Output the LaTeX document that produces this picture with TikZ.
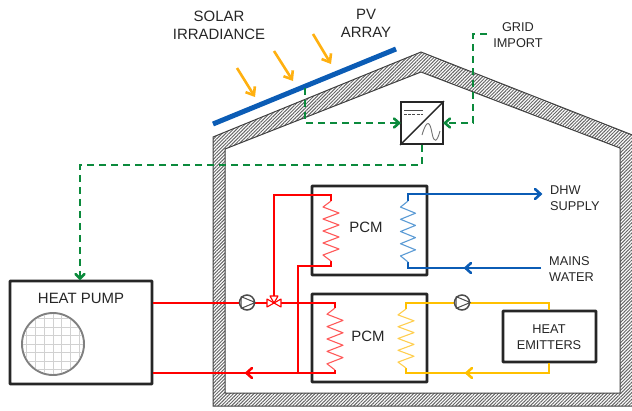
\documentclass[tikz,border=0pt]{standalone}
\usepackage{fontspec}
\setmainfont{Liberation Sans}
\usetikzlibrary{patterns.meta,arrows.meta,calc}
\definecolor{tcol}{HTML}{262626}
\definecolor{redc}{HTML}{FF0000}
\definecolor{coilred}{HTML}{FF5A5A}
\definecolor{bluec}{HTML}{0B5CB5}
\definecolor{coilblue}{HTML}{5B9BD5}
\definecolor{yelc}{HTML}{FFC000}
\definecolor{coilyel}{HTML}{FFCF50}
\definecolor{grnc}{HTML}{0B8A3C}
\definecolor{orgc}{HTML}{FFB010}
\tikzset{
  x=1bp,y=-1bp,
  lbl/.style={font=\fontsize{15}{18}\selectfont,text=tcol,align=center,inner sep=0pt},
  slbl/.style={font=\fontsize{12.8}{15.5}\selectfont,text=tcol,inner sep=0pt},
  blackbox/.style={draw=black!85,line width=2.6bp,fill=white,inner sep=0pt,rounded corners=0.5bp},
  pipe/.style={line width=2.6bp},
  redpipe/.style={pipe,draw=redc},
  bluepipe/.style={pipe,draw=bluec},
  yelpipe/.style={pipe,draw=yelc},
  greenline/.style={draw=grnc,line width=2.6bp,dash pattern=on 7bp off 5bp},
  coil/.style={line width=1.1bp,line join=round},
  sun/.style={draw=orgc,line width=2.6bp,-{Straight Barb[length=7bp,width=11bp]}},
  pumpc/.style={circle,draw=black!70,line width=1.5bp,fill=white,minimum size=15bp,inner sep=0pt},
  headtip/.style={line width=2.6bp,line cap=round},
  wall/.style={draw=black!75,line width=1bp,pattern={Lines[angle=45,distance=2.4bp,line width=1bp]},pattern color=black!60}
}
\newcommand{\zigzag}[5]{% #1 colour, #2 centre x, #3 half width, #4 top y, #5 bottom y
  \pgfmathsetmacro{\dy}{(#5-#4)/10}
  \draw[#1,coil] (#2,#4) -- (#2-#3,#4+\dy) -- (#2+#3,#4+2*\dy) -- (#2-#3,#4+3*\dy) -- (#2+#3,#4+4*\dy)
  -- (#2-#3,#4+5*\dy) -- (#2+#3,#4+6*\dy) -- (#2-#3,#4+7*\dy) -- (#2+#3,#4+8*\dy) -- (#2-#3,#4+9*\dy) -- (#2,#4+10*\dy);
}
\begin{document}
\begin{tikzpicture}
\useasboundingbox (0,0) rectangle (632,410);
\begin{scope}
\clip (0,0) rectangle (632,410);
% house wall
\path[wall,even odd rule]
  (213,406) -- (213,137) -- (421,52) -- (640,138) -- (640,406) -- cycle
  (225,393) -- (225,149) -- (421,72) -- (620,148) -- (620,393) -- cycle;
\end{scope}
% PV panel
\coordinate (pva) at (213,124);
\coordinate (pvb) at (396,49);
\draw[draw=bluec,line width=5bp] (pva) -- (pvb);
% sun arrows
\coordinate (s1a) at (237,68); \coordinate (s1b) at (255,97);
\coordinate (s2a) at (274,51); \coordinate (s2b) at (293,81);
\coordinate (s3a) at (313,34); \coordinate (s3b) at (331,64);
\draw[sun] (s1a) -- (s1b);
\draw[sun] (s2a) -- (s2b);
\draw[sun] (s3a) -- (s3b);
% labels top
\node[lbl] (solar) at (219,25) {SOLAR\\IRRADIANCE};
\node[lbl] (pvarr) at (366,23) {PV\\ARRAY};
\node[slbl,align=center] (grid) at (518,35) {GRID\\IMPORT};
% boxes
\node[blackbox,minimum width=115bp,minimum height=89bp] (pcma) at (369.5,230.5) {};
\node[blackbox,minimum width=115bp,minimum height=88bp] (pcmb) at (369.5,338) {};
\node[blackbox,minimum width=142bp,minimum height=103bp] (hp) at (81,332.5) {};
\node[blackbox,minimum width=93bp,minimum height=51bp] (emit) at (549.5,336.5) {};
\node[draw=black!85,line width=1.8bp,fill=white,minimum size=42bp,inner sep=0pt] (inv) at (422,123) {};
\node[lbl] (pcmat) at (366,227) {PCM};
\node[lbl] (pcmbt) at (368,336) {PCM};
\node[lbl] (hpt) at (81,298) {HEAT PUMP};
\node[slbl,align=center] (emt) at (549,337) {HEAT\\EMITTERS};
\node[slbl,align=left,anchor=west] (dhw) at (550,198) {DHW\\SUPPLY};
\node[slbl,align=left,anchor=west] (mains) at (549,269) {MAINS\\WATER};
% inverter symbol
\draw[black!85,line width=1.4bp] (inv.south west) -- (inv.north east);
\draw[black!70,line width=0.9bp] (404,110) -- (423,110);
\draw[black!70,line width=0.9bp,dash pattern=on 3bp off 1.2bp] (404,114) -- (423,114);
\draw[black!55,line width=0.9bp] (422,135) .. controls (427,118) and (430,122) .. (432,133) .. controls (434,144) and (437,142) .. (440,131);
% fan
\node[circle,draw=black!50,line width=1.9bp,minimum size=62bp,inner sep=0pt] (fan) at (53,344) {};
\begin{scope}
\clip (fan.center) circle (30bp);
\foreach \i in {-3,...,3} {
  \draw[black!18,line width=1bp] (53+\i*8.7,310) -- (53+\i*8.7,378);
  \draw[black!18,line width=1bp] (20,344+\i*8.5) -- (86,344+\i*8.5);
}
\end{scope}
% green lines
\coordinate (g1) at (305,88);
\coordinate (g2) at (305,123);
\coordinate (g3) at (487,34);
\coordinate (g4) at (473,34);
\coordinate (g5) at (473,123);
\coordinate (g6) at (422,165);
\coordinate (g7) at (80,165);
\draw[greenline] (g1) -- (g2) -- (inv.west);
\draw[greenline] (g3) -- (g4) -- (g5) -- (inv.east);
\draw[greenline] (inv.south) -- (g6) -- (g7) -- (g7 |- hp.north);
\draw[grnc,headtip] (394,118.5) -- (399,123) -- (394,127.5);
\draw[grnc,headtip] (450,118.5) -- (445,123) -- (450,127.5);
\draw[grnc,headtip] (75.5,274) -- (80,278.5) -- (84.5,274);
% red pipes: lower coil, upper coil
\coordinate (v) at (274,303);
\coordinate (ra1) at (335,303); \coordinate (ra2) at (335,308);
\coordinate (ra3) at (335,370); \coordinate (ra4) at (335,373);
\coordinate (rb1) at (274,195); \coordinate (rb2) at (331,195); \coordinate (rb3) at (331,201);
\coordinate (rb4) at (331,261); \coordinate (rb5) at (331,266); \coordinate (rb6) at (298,266); \coordinate (rb7) at (298,373);
\draw[redpipe] (hp.east |- v) -- (v) -- (ra1) -- (ra2);
\draw[redpipe] (ra3) -- (ra4) -- (hp.east |- ra4);
\draw[redpipe] (v) -- (rb1) -- (rb2) -- (rb3);
\draw[redpipe] (rb4) -- (rb5) -- (rb6) -- (rb7);
\draw[redc,headtip] (252,368) -- (246.5,373) -- (252,378);
\zigzag{coilred}{335}{8}{308}{370}
\zigzag{coilred}{331}{8}{201}{261}
% blue
\coordinate (ba1) at (408,201); \coordinate (ba2) at (408,194); \coordinate (ba3) at (540,194);
\coordinate (bb1) at (408,262); \coordinate (bb2) at (408,268); \coordinate (bb3) at (541,268);
\draw[bluepipe] (ba1) -- (ba2) -- (ba3);
\draw[bluepipe] (bb3) -- (bb2) -- (bb1);
\draw[bluec,headtip] (535,189) -- (540.5,194) -- (535,199);
\draw[bluec,headtip] (471,263) -- (465.5,268) -- (471,273);
\zigzag{coilblue}{408}{7.5}{201}{262}
% yellow
\coordinate (ya1) at (406,309); \coordinate (ya2) at (406,303); 
\coordinate (ya3) at (549,303);
\coordinate (yb1) at (406,368); \coordinate (yb2) at (406,373); \coordinate (yb3) at (549,373);
\draw[yelpipe] (ya1) -- (ya2) -- (ya3) -- (emit.north -| ya3);
\draw[yelpipe] (emit.south -| yb3) -- (yb3) -- (yb2) -- (yb1);
\draw[yelc,headtip] (472,368) -- (466.5,373) -- (472,378);
\zigzag{coilyel}{406}{8}{309}{368}
% pumps
\node[pumpc] (p1) at (247,302.5) {};
\draw[black!70,line width=1bp,line join=round] (p1.north west) -- (p1.east) -- (p1.south west) -- cycle;
\node[pumpc] (p2) at (462,302.5) {};
\draw[black!70,line width=1bp,line join=round] (p2.north west) -- (p2.east) -- (p2.south west) -- cycle;
% valve
\draw[redc,line width=1.1bp,fill=white,line join=round] (274,303) -- (267,299) -- (267,307) -- cycle;
\draw[redc,line width=1.1bp,fill=white,line join=round] (274,303) -- (281,299) -- (281,307) -- cycle;
\draw[redc,line width=1.1bp,fill=white,line join=round] (274,303) -- (270,296) -- (278,296) -- cycle;
\end{tikzpicture}
\end{document}
